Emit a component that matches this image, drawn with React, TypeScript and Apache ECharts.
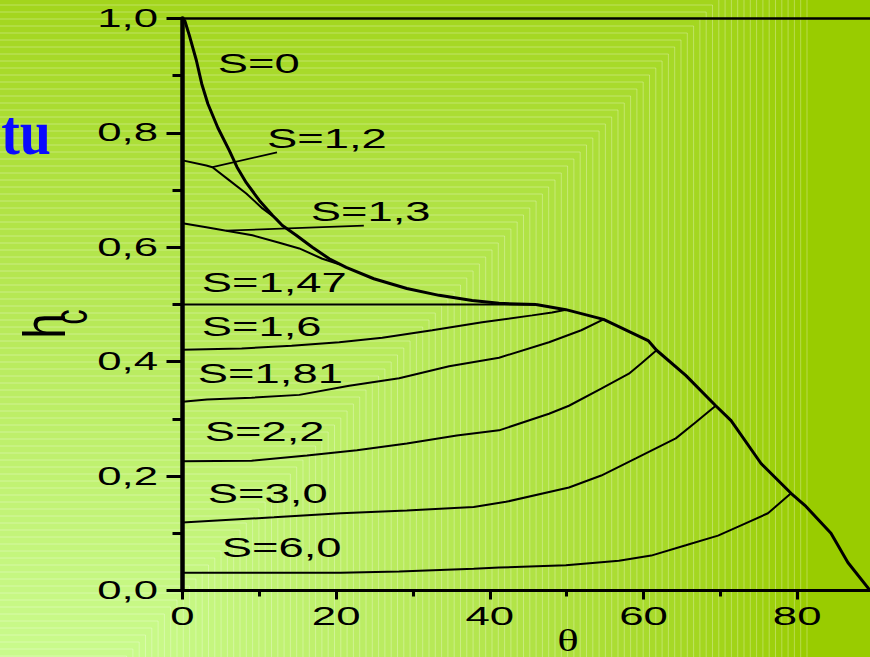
import React, { useEffect, useRef } from "react";
import * as echarts from "echarts";

type Pt = [number, number];

// Contact-line height h_c against angle θ (degrees), one curve per spreading parameter S
const curveS0: Pt[] = [
  [0, 1.0], [0.3, 0.996], [0.9, 0.97], [1.8, 0.927], [2.5, 0.886], [3.3, 0.851],
  [4.6, 0.809], [6.1, 0.769], [7.1, 0.74], [8.3, 0.713], [10.0, 0.682], [11.7, 0.656],
  [13.0, 0.638], [14.8, 0.621], [16.9, 0.6], [19.1, 0.58], [21.3, 0.565], [24.9, 0.545],
  [29.2, 0.528], [33.4, 0.516], [37.7, 0.507], [41.2, 0.502], [46.0, 0.5],
];
// Locus of the end points of the S > 1.47 curves
const curveLimit: Pt[] = [
  [46.0, 0.5], [49.9, 0.491], [54.8, 0.474], [60.6, 0.437], [61.7, 0.42], [65.5, 0.376],
  [69.4, 0.323], [71.4, 0.297], [75.3, 0.222], [79.2, 0.17], [81.0, 0.149], [84.4, 0.1],
  [86.6, 0.049], [89.5, 0.0],
];
const curveS12: Pt[] = [
  [0, 0.752], [3.1, 0.743], [3.9, 0.74], [6.1, 0.717], [8.3, 0.694], [10.4, 0.668],
  [12.2, 0.65], [13.0, 0.638],
];
const curveS13: Pt[] = [
  [0, 0.642], [3.1, 0.635], [5.7, 0.629], [9.1, 0.621], [12.6, 0.608], [15.2, 0.598],
  [18.2, 0.58], [20.5, 0.57],
];
const curveS147: Pt[] = [[0, 0.5], [46.0, 0.5]];
const curveS16: Pt[] = [
  [0, 0.421], [7.7, 0.423], [14.2, 0.428], [20.4, 0.434], [26.0, 0.442], [32.5, 0.455],
  [39.0, 0.469], [45.5, 0.481], [48.1, 0.486], [49.9, 0.491],
];
const curveS181: Pt[] = [
  [0, 0.33], [3.2, 0.334], [9.0, 0.337], [15.2, 0.342], [21.7, 0.358], [28.2, 0.371],
  [34.7, 0.392], [41.2, 0.407], [47.7, 0.434], [51.9, 0.455], [54.8, 0.474],
];
const curveS22: Pt[] = [
  [0, 0.226], [9.0, 0.227], [16.2, 0.236], [22.7, 0.245], [29.2, 0.257], [35.7, 0.271],
  [41.2, 0.28], [47.7, 0.309], [50.3, 0.323], [54.5, 0.353], [58.1, 0.379], [59.7, 0.397],
  [61.7, 0.42],
];
const curveS30: Pt[] = [
  [0, 0.119], [11.9, 0.128], [20.6, 0.135], [29.2, 0.14], [37.9, 0.146], [42.1, 0.155],
  [50.3, 0.18], [54.5, 0.201], [59.0, 0.231], [64.2, 0.266], [66.8, 0.294], [69.4, 0.323],
];
const curveS60: Pt[] = [
  [0, 0.031], [20.6, 0.031], [28.2, 0.033], [37.9, 0.038], [41.2, 0.04], [49.9, 0.044],
  [56.8, 0.052], [61.0, 0.061], [65.5, 0.079], [69.7, 0.096], [72.7, 0.114], [76.2, 0.135],
  [79.2, 0.17],
];

const curveNames = ["S=0", "S=1,2", "S=1,3", "S=1,47", "S=1,6", "S=1,81", "S=2,2", "S=3,0", "S=6,0"];

// Pointer lines from the S=1,2 and S=1,3 curves to their names
const leaderS12: Pt[] = [[3.9, 0.74], [12.3, 0.766]];
const leaderS13: Pt[] = [[5.7, 0.629], [23.6, 0.638]];

const xTickValues = [0, 20, 40, 60, 80];
const xTickLabels = ["0", "20", "40", "60", "80"];
const yTickValues = [0, 0.2, 0.4, 0.6, 0.8, 1.0];
const yTickLabels = ["0,0", "0,2", "0,4", "0,6", "0,8", "1,0"];

// Where each curve name sits (θ, h_c): left edge, vertical middle; same order as curveNames
const nameAnchors: Pt[] = [
  [4.6, 0.922], [11.0, 0.79], [16.7, 0.662], [2.5, 0.539], [2.5, 0.461],
  [2.0, 0.379], [2.9, 0.279], [3.3, 0.17], [5.1, 0.076],
];

const SANS = "'Liberation Sans', Arial, sans-serif";
const SERIF = "'Liberation Serif', 'Times New Roman', serif";

function mixColor(f: number): string {
  const c0 = [153, 204, 0];
  const c1 = [202, 251, 142];
  const c = c0.map((v, i) => Math.round(v + (c1[i] - v) * f));
  return `rgb(${c[0]},${c[1]},${c[2]})`;
}

// Slide-style backdrop: nested L-shaped bands fanning out from the upper right
function backdrop(): any[] {
  const els: any[] = [
    { type: "rect", z: -100, silent: true, shape: { x: 0, y: 0, width: 870, height: 657 }, style: { fill: mixColor(0) } },
  ];
  const X0 = 807;
  const off = 100;
  const slope = 0.9;
  const step = 7;
  const sMax = 760;
  for (let s = 0; s <= sMax; s += step) {
    const f = Math.pow(s / sMax, 0.8);
    els.push({
      type: "rect",
      z: -100,
      silent: true,
      shape: { x: -10, y: s - off, width: X0 - slope * s + 10, height: 800 },
      style: { fill: mixColor(f), stroke: "rgba(255,255,255,0.3)", lineWidth: 1 },
    });
  }
  return els;
}

function label(text: string, x: number, y: number, o: any): any {
  return {
    type: "text",
    x,
    y,
    z: 100,
    silent: true,
    rotation: o.rot ?? 0,
    scaleX: o.sx ?? 1,
    scaleY: o.sy ?? 1,
    style: {
      text,
      fill: o.fill ?? "#000",
      fontSize: o.size,
      fontFamily: o.family ?? SANS,
      fontWeight: o.weight ?? "normal",
      align: o.align ?? "left",
      verticalAlign: "middle",
    },
  };
}

export default function App() {
  const ref = useRef<HTMLDivElement>(null);

  useEffect(() => {
    const el = ref.current;
    if (!el) return;
    const prevMargin = document.body.style.margin;
    document.body.style.margin = "0";
    const chart = echarts.init(el, null, { renderer: "svg" });

    const line = (name: string, data: Pt[], width: number, z = 3) => ({
      type: "line",
      name,
      data,
      symbol: "none",
      showSymbol: false,
      silent: true,
      z,
      lineStyle: { color: "#000", width },
    });
    const black = { color: "#000" };

    chart.setOption({
      animation: false,
      tooltip: { show: false },
      grid: { left: 182.5, top: 18.5, right: -4, bottom: 66.5, outerBoundsMode: "none" },
      xAxis: [
        {
          type: "value",
          min: 0,
          max: 90,
          interval: 20,
          axisLine: { show: true, onZero: false, lineStyle: { ...black, width: 3 } },
          axisTick: { show: true, length: 9, lineStyle: { ...black, width: 3 } },
          minorTick: { show: true, splitNumber: 2, length: 6, lineStyle: { ...black, width: 3 } },
          axisLabel: { show: false },
          splitLine: { show: false },
        },
        {
          type: "value",
          position: "top",
          min: 0,
          max: 90,
          axisLine: { show: true, onZero: false, lineStyle: { ...black, width: 2.5 } },
          axisTick: { show: false },
          axisLabel: { show: false },
          splitLine: { show: false },
        },
      ],
      yAxis: {
        type: "value",
        min: 0,
        max: 1,
        interval: 0.2,
        axisLine: { show: true, onZero: false, lineStyle: { ...black, width: 4.5 } },
        axisTick: { show: true, length: 16, lineStyle: { ...black, width: 3 } },
        minorTick: { show: true, splitNumber: 2, length: 10, lineStyle: { ...black, width: 3 } },
        axisLabel: { show: false },
        splitLine: { show: false },
      },
      series: [
        line(curveNames[1], curveS12, 2),
        line(curveNames[2], curveS13, 2),
        line(curveNames[3], curveS147, 2),
        line(curveNames[4], curveS16, 2),
        line(curveNames[5], curveS181, 2),
        line(curveNames[6], curveS22, 2),
        line(curveNames[7], curveS30, 2),
        line(curveNames[8], curveS60, 2),
        line("pointer S=1,2", leaderS12, 1.8),
        line("pointer S=1,3", leaderS13, 1.8),
        line(curveNames[0], curveS0, 3, 5),
        line("limit", curveLimit, 3, 5),
      ],
    });

    const toPx = (p: Pt) => chart.convertToPixel({ seriesIndex: 0 }, p) as number[];

    const texts: any[] = [];
    // tick labels
    yTickValues.forEach((v, i) => {
      const [x, y] = toPx([0, v]);
      texts.push(label(yTickLabels[i], x - 24.5, y, { size: 25, sx: 1.75, align: "right" }));
    });
    xTickValues.forEach((v, i) => {
      const [x, y] = toPx([v, 0]);
      texts.push(label(xTickLabels[i], x, y + 26, { size: 25, sx: 1.75, align: "center" }));
    });
    // curve names
    curveNames.forEach((n, i) => {
      const [x, y] = toPx(nameAnchors[i]);
      texts.push(label(n, x, y, { size: 28, sx: 1.62 }));
    });
    // axis titles
    texts.push(label("θ", 568, 640, { size: 28, sx: 1.6, sy: 1.15, family: SERIF, align: "center" }));
    texts.push(label("h", 44, 326, { size: 46, sy: 1.3, rot: Math.PI / 2, align: "center" }));
    texts.push(label("c", 70, 317, { size: 30, sy: 1.6, rot: Math.PI / 2, align: "center" }));
    // title fragment at the slide's left edge
    texts.push(label("tu", 51, 132, { size: 56, sy: 1.15, family: SERIF, weight: "bold", fill: "#0a0aff", align: "right" }));

    chart.setOption({ graphic: { elements: [...backdrop(), ...texts] } });

    return () => {
      chart.dispose();
      document.body.style.margin = prevMargin;
    };
  }, []);

  return <div ref={ref} style={{ width: 870, height: 657 }} />;
}
